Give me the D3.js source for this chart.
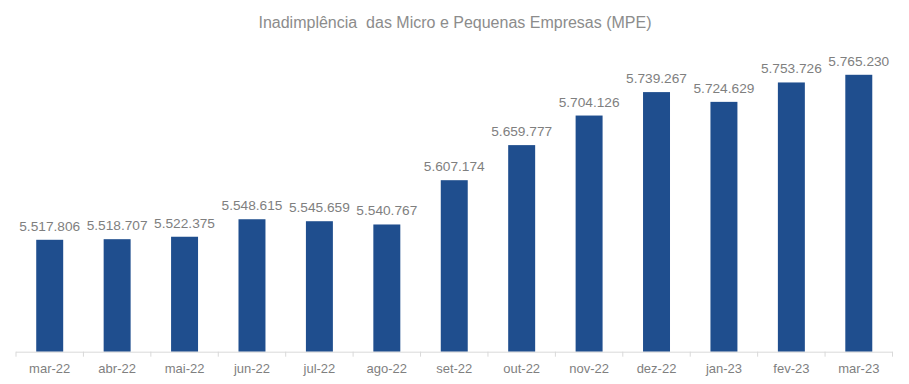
<!DOCTYPE html>
<html lang="pt">
  <head>
    <meta charset="utf-8">
    <title>Inadimplência MPE</title>
    <script src="https://cdn.jsdelivr.net/npm/d3@7"></script>
    <style>
      body { margin: 0; background: #fff; }
      text { font-family: "Liberation Sans", Arial, sans-serif; }
    </style>
  </head>
  <body>
    <script>
      // months and number of MPE in default
      var months = ["mar-22", "abr-22", "mai-22", "jun-22", "jul-22", "ago-22", "set-22",
                    "out-22", "nov-22", "dez-22", "jan-23", "fev-23", "mar-23"];
      var values = [5517806, 5518707, 5522375, 5548615, 5545659, 5540767, 5607174,
                    5659777, 5704126, 5739267, 5724629, 5753726, 5765230];

      const WIDTH = 909;
      const HEIGHT = 384;
      const BASE_Y = 351.7;
      const TOP_Y = 51.6;

      var svg = d3.select("body").append("svg")
        .attr("width", WIDTH)
        .attr("height", HEIGHT);

      var x = d3.scaleBand()
        .domain(months)
        .range([16, 892.5])
        .paddingInner(0.6)
        .paddingOuter(0.3);

      // axis does not start at zero
      var y = d3.scaleLinear()
        .domain([5350000, 5800000])
        .range([BASE_Y, TOP_Y]);

      var fmt = d3.formatLocale({decimal: ",", thousands: ".", grouping: [3], currency: ["R$", ""]}).format(",d");

      svg.append("text")
        .attr("x", 455)
        .attr("y", 28)
        .attr("text-anchor", "middle")
        .attr("fill", "#8c8c8c")
        .attr("font-size", "16px")
        .attr("xml:space", "preserve")
        .text("Inadimplência  das Micro e Pequenas Empresas (MPE)");

      svg.selectAll("rect.bar")
        .data(values)
        .enter().append("rect")
        .attr("class", "bar")
        .attr("x", (d, i) => x(months[i]))
        .attr("width", x.bandwidth())
        .attr("y", d => y(d))
        .attr("height", d => BASE_Y - y(d))
        .attr("fill", "#1f4e8e");

      svg.selectAll("text.val")
        .data(values)
        .enter().append("text")
        .attr("class", "val")
        .attr("x", (d, i) => x(months[i]) + x.bandwidth() / 2)
        .attr("y", d => y(d) - 9)
        .attr("text-anchor", "middle")
        .attr("fill", "#7f7f7f")
        .attr("font-size", "13.7px")
        .text(d => fmt(d));

      // x axis
      var xAxis = d3.axisBottom(x).tickSize(0).tickPadding(0);
      var ax = svg.append("g")
        .attr("transform", "translate(0," + BASE_Y + ")")
        .call(xAxis);
      ax.select(".domain").attr("stroke", "#d9d9d9").attr("d", "M16,0.5H892.5");
      ax.selectAll(".tick text")
        .attr("y", 21)
        .attr("dy", 0)
        .attr("fill", "#7f7f7f")
        .attr("font-size", "13px")
        .attr("font-family", "Liberation Sans, Arial, sans-serif");

      // separators between categories
      var step = x.step();
      var edges = d3.range(months.length + 1).map(i => 16 + i * step);
      ax.selectAll("line.sep")
        .data(edges)
        .enter().append("line")
        .attr("class", "sep")
        .attr("x1", d => d)
        .attr("x2", d => d)
        .attr("y1", 0)
        .attr("y2", 5)
        .attr("stroke", "#d9d9d9");
    </script>
  </body>
</html>
